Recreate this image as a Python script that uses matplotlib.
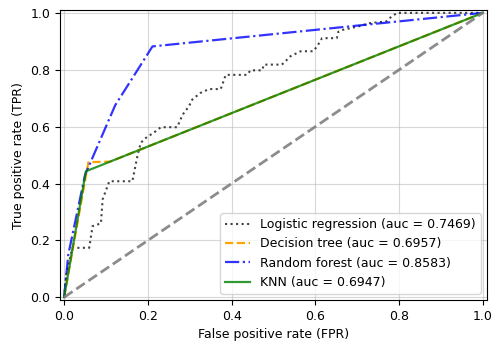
import matplotlib
matplotlib.use('Agg')
import matplotlib.pyplot as plt

# ROC curve points
lr_fpr = [0.0, 0.005, 0.02, 0.06, 0.068, 0.088, 0.092, 0.108, 0.163, 0.175, 0.183, 0.195,
          0.219, 0.231, 0.27, 0.283, 0.298, 0.306, 0.325, 0.346, 0.374, 0.386, 0.437,
          0.445, 0.473, 0.477, 0.52, 0.528, 0.54, 0.565, 0.595, 0.604, 0.616, 0.651,
          0.655, 0.665, 0.702, 0.731, 0.77, 0.777, 0.795, 1.0]
lr_tpr = [0.0, 0.08, 0.174, 0.174, 0.25, 0.26, 0.344, 0.408, 0.408, 0.496, 0.543, 0.56,
          0.584, 0.598, 0.598, 0.642, 0.671, 0.695, 0.718, 0.732, 0.732, 0.782, 0.782,
          0.798, 0.798, 0.818, 0.818, 0.829, 0.847, 0.865, 0.865, 0.882, 0.911, 0.911,
          0.934, 0.94, 0.952, 0.964, 0.97, 0.981, 1.0, 1.0]

dt_fpr = [0.0, 0.058, 0.11, 1.0]
dt_tpr = [0.0, 0.475, 0.477, 1.0]

rf_fpr = [0.0, 0.01, 0.05, 0.122, 0.211, 1.0]
rf_tpr = [0.0, 0.15, 0.43, 0.675, 0.882, 1.0]

knn_fpr = [0.0, 0.052, 1.0]
knn_tpr = [0.0, 0.443, 1.0]

labels = ['Logistic regression', 'Decision tree', 'Random forest', 'KNN']
aucs = [0.7469, 0.6957, 0.8583, 0.6947]

fig = plt.figure(figsize=(4.91, 3.45), dpi=100)
ax = fig.add_axes([0.122, 0.13, 0.870, 0.841])

ax.plot(lr_fpr, lr_tpr, color='#222222', linestyle=':', lw=1.5, alpha=0.85,
        label='%s (auc = %.4f)' % (labels[0], aucs[0]))
ax.plot(dt_fpr, dt_tpr, color='orange', linestyle='--', lw=1.6,
        label='%s (auc = %.4f)' % (labels[1], aucs[1]))
ax.plot(rf_fpr, rf_tpr, color='blue', linestyle='-.', lw=1.6, alpha=0.8,
        label='%s (auc = %.4f)' % (labels[2], aucs[2]))
ax.plot(knn_fpr, knn_tpr, color='green', linestyle='-', lw=1.6, alpha=0.8,
        label='%s (auc = %.4f)' % (labels[3], aucs[3]))
ax.plot([0, 1], [0, 1], color='gray', linestyle='--', lw=2, alpha=0.9)

ax.set_xlim(-0.01, 1.01)
ax.set_ylim(-0.01, 1.01)
ax.grid(alpha=0.5)
ax.set_xlabel('False positive rate (FPR)', fontsize=9)
ax.set_ylabel('True positive rate (TPR)', fontsize=9)
ax.tick_params(labelsize=9)
ax.legend(loc='lower right', fontsize=9)

fig.savefig('out.png', dpi=100)
